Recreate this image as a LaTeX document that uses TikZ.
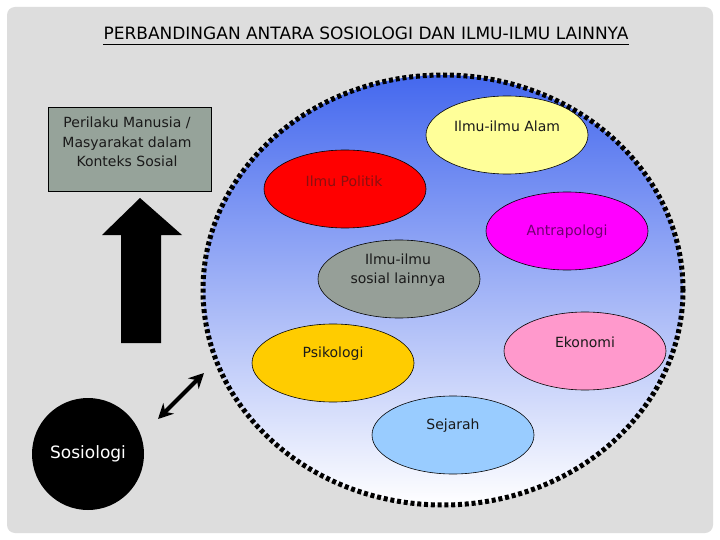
\documentclass[tikz,border=0pt]{standalone}
\usepackage{fontspec}
\setmainfont{DejaVu Sans}
\usetikzlibrary{shapes.geometric,arrows.meta}
\definecolor{bgray}{HTML}{DDDDDD}
\definecolor{fieldtop}{HTML}{4468EE}
\definecolor{boxc}{HTML}{96A39A}
\definecolor{alamc}{HTML}{FFFF99}
\definecolor{politc}{HTML}{FF0000}
\definecolor{antrac}{HTML}{FF00FF}
\definecolor{sosc}{HTML}{969F98}
\definecolor{psikc}{HTML}{FFCC00}
\definecolor{ekoc}{HTML}{FF99CC}
\definecolor{sejc}{HTML}{99CCFF}
\definecolor{politt}{HTML}{8A1010}
\definecolor{antrat}{HTML}{700070}
\definecolor{darkt}{HTML}{1A1A1A}
\begin{document}
\begin{tikzpicture}[x=1pt,y=-1pt,
  sci/.style={ellipse,draw=black,line width=0.6pt,minimum width=162pt,minimum height=78pt,inner sep=0pt},
  etext/.style={font=\fontsize{14}{19}\selectfont,align=center,inner sep=0pt,text=darkt}]
\useasboundingbox (0,0) rectangle (720,540);
\fill[white] (0,0) rectangle (720,540);
\fill[bgray, rounded corners=8pt] (7,7) rectangle (713,533);
% title
\node[font=\fontsize{17}{20}\selectfont, anchor=base, inner sep=0pt] (title) at (366,40) {PERBANDINGAN ANTARA SOSIOLOGI DAN ILMU-ILMU LAINNYA};
\draw[line width=1.2pt] ([yshift=-4.5pt]title.base west) -- ([yshift=-4.5pt]title.base east);
% big field
\node[ellipse, minimum width=480pt, minimum height=430pt, inner sep=0pt,
      top color=fieldtop, bottom color=white, draw=black, line width=5pt,
      dash pattern=on 4pt off 2.8pt] (field) at (443,290) {};
% ellipses
\node[sci, fill=alamc] (alam) at (507,135) {};
\node[sci, fill=politc] (politik) at (345,189) {};
\node[sci, fill=antrac] (antra) at (567,231) {};
\node[sci, fill=sosc] (sosial) at (399,279) {};
\node[sci, fill=psikc] (psik) at (333,363) {};
\node[sci, fill=ekoc] (eko) at (585,351) {};
\node[sci, fill=sejc] (sej) at (453,435) {};
\node[etext] (alamT) at (507,126) {Ilmu-ilmu Alam};
\node[etext, text=politt] (politikT) at (344,181) {Ilmu Politik};
\node[etext, text=antrat] (antraT) at (567,232) {Antrapologi};
\node[etext] (sosialT) at (398,270) {Ilmu-ilmu\\sosial lainnya};
\node[etext] (psikT) at (333,354) {Psikologi};
\node[etext] (ekoT) at (585,342) {Ekonomi};
\node[etext] (sejT) at (453,426) {Sejarah};
% box
\node[draw=black, fill=boxc, line width=1pt, minimum width=163pt, minimum height=84pt, inner sep=0pt] (box) at (130,150) {};
\node[font=\fontsize{14}{19.5}\selectfont, align=center, inner sep=0pt, text=darkt] (boxT) at (127,142) {Perilaku Manusia /\\Masyarakat dalam\\Konteks Sosial};
% big arrow
\fill[black] (140,198) -- (182,235) -- (161,235) -- (161,343) -- (121,343) -- (121,235) -- (102,235) -- cycle;
% sosiologi
\node[circle, fill=black, minimum size=112pt, inner sep=0pt, text=white, font=\fontsize{17}{20}\selectfont] (sos) at (88,454) {Sosiologi};
% double arrow
\coordinate (da1) at (158,419);
\coordinate (da2) at (204,373);
\draw[line width=4pt, {Stealth[length=15pt,width=15pt]}-{Stealth[length=15pt,width=15pt]}] (da1) -- (da2);
\end{tikzpicture}
\end{document}
